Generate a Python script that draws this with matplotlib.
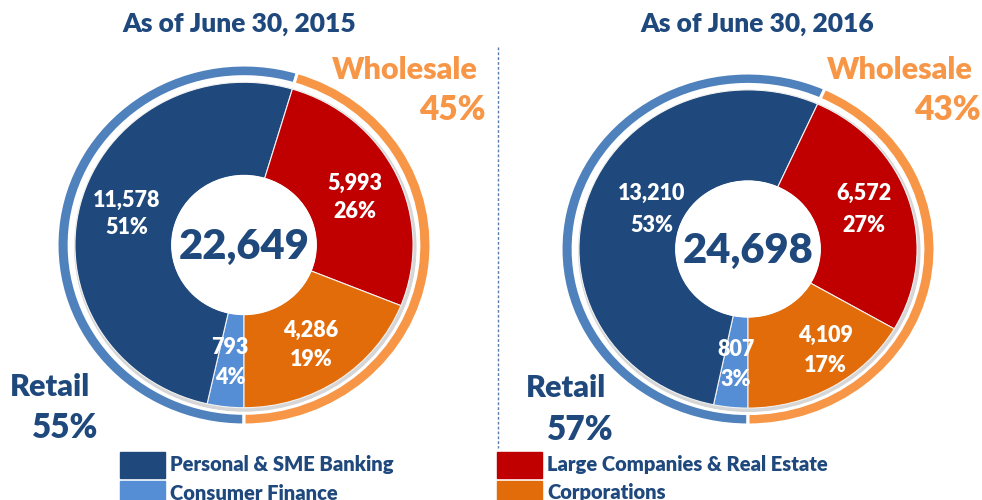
import matplotlib
matplotlib.use("Agg")
import matplotlib.pyplot as plt
from matplotlib.patches import Circle, Rectangle

# --- DATA ---
titles = ["As of June 30, 2015", "As of June 30, 2016"]
segments = ["Consumer Finance", "Personal & SME Banking",
            "Large Companies & Real Estate", "Corporations"]
values_2015 = [793, 11578, 5993, 4286]
values_2016 = [807, 13210, 6572, 4109]
pct_2015 = ["4%", "51%", "26%", "19%"]
pct_2016 = ["3%", "53%", "27%", "17%"]
totals = ["22,649", "24,698"]
retail_pct = ["55%", "57%"]
wholesale_pct = ["45%", "43%"]

# --- STYLE ---
NAVY = "#1F497D"
seg_colors = ["#558ED5", "#1F497D", "#C00000", "#E36C0A"]
ring_colors = ["#4F81BD", "#F79646"]
FONT = "Lato"
WT = 800

W, H = 982, 500
fig = plt.figure(figsize=(W / 100, H / 100), dpi=100)

# donut geometry in pixels: centre x, centre y, radius x, radius y
geo = [(244, 245, 187, 180), (748, 249, 187, 176)]
# label positions (pixel): x, y of value, y of percent
label_pos = [
    [(230, 348, 378), (127, 200, 228), (355, 183, 212), (311, 330, 360)],
    [(736, 350, 380), (652, 193, 225), (864, 193, 225), (825, 335, 365)],
]
retail_xy = [(50, 387, 65, 428), (566, 388, 580, 430)]
wholesale_xy = [(405, 70, 452, 110), (900, 70, 947, 110)]
title_x = [239, 757]


def donut(idx, values):
    cx, cy, rx, ry = geo[idx]
    ax = fig.add_axes([(cx - rx) / W, (H - cy - ry) / H, 2 * rx / W, 2 * ry / H])
    retail = values[0] + values[1]
    wholesale = values[2] + values[3]
    ax.pie([retail, wholesale], radius=1.0, startangle=270, counterclock=False,
           colors=ring_colors,
           wedgeprops=dict(width=0.065, edgecolor="white", linewidth=2.2))
    # soft shadow under the inner ring
    ax.add_patch(Circle((0.007, -0.012), 0.912, color="#d6d6d6", zorder=0.5))
    ax.pie(values, radius=0.904, startangle=270, counterclock=False,
           colors=seg_colors,
           wedgeprops=dict(width=0.519, edgecolor="#f2f2f2", linewidth=0.8))
    ax.add_patch(Circle((0, 0), 0.386, color="white", zorder=5))
    ax.set_aspect("auto")
    ax.set_xlim(-1, 1)
    ax.set_ylim(-1, 1)
    ax.axis("off")


donut(0, values_2015)
donut(1, values_2016)

# overlay axis in pixel coordinates for all text
ov = fig.add_axes([0, 0, 1, 1])
ov.set_xlim(0, W)
ov.set_ylim(H, 0)
ov.patch.set_alpha(0)
ov.axis("off")

all_values = [values_2015, values_2016]
all_pct = [pct_2015, pct_2016]
for i in range(2):
    ov.text(title_x[i], 24, titles[i], ha="center", va="center", fontsize=19,
            fontweight=WT, color=NAVY, family=FONT)
    cx, cy, _, _ = geo[i]
    ov.text(cx, cy + 2, totals[i], ha="center", va="center", fontsize=30,
            fontweight=WT, color=NAVY, family=FONT)
    for (x, yv, yp), v, p in zip(label_pos[i], all_values[i], all_pct[i]):
        ov.text(x, yv, f"{v:,}", ha="center", va="center", fontsize=15.5,
                fontweight=WT, color="white", family=FONT)
        ov.text(x, yp, p, ha="center", va="center", fontsize=15.5,
                fontweight=WT, color="white", family=FONT)
    rx1, ry1, rx2, ry2 = retail_xy[i]
    ov.text(rx1, ry1, "Retail", ha="center", va="center", fontsize=22,
            fontweight=WT, color=NAVY, family=FONT)
    ov.text(rx2, ry2, retail_pct[i], ha="center", va="center", fontsize=24,
            fontweight=WT, color=NAVY, family=FONT)
    wx1, wy1, wx2, wy2 = wholesale_xy[i]
    ov.text(wx1, wy1, "Wholesale", ha="center", va="center", fontsize=22,
            fontweight=WT, color=ring_colors[1], family=FONT)
    ov.text(wx2, wy2, wholesale_pct[i], ha="center", va="center", fontsize=24,
            fontweight=WT, color=ring_colors[1], family=FONT)

# dotted divider
ov.plot([498, 498], [47, 448], color="#5B7BA8", lw=1.0, ls=(0, (2, 1.5)))

# legend
legend_items = [
    (120, 452, seg_colors[1], segments[1]),
    (120, 481, seg_colors[0], segments[0]),
    (497, 452, seg_colors[2], segments[2]),
    (497, 481, seg_colors[3], segments[3]),
]
for x, y, c, label in legend_items:
    ov.add_patch(Rectangle((x, y), 45, 26, color=c))
    ov.text(x + 50, y + 12, label, ha="left", va="center", fontsize=14.5,
            fontweight=WT, color=NAVY, family=FONT)

fig.savefig("out.png", dpi=100)
